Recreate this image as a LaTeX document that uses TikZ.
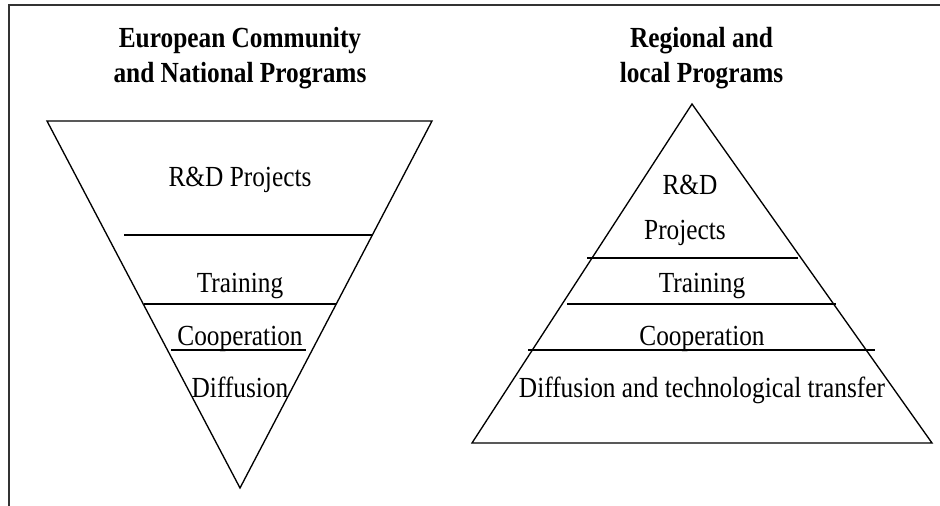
\documentclass[tikz,border=0pt]{standalone}
\usepackage{fontspec}
\setmainfont{Liberation Serif}
\tikzstyle{frameline} = [draw=black!80, line width=1.5pt]
\tikzstyle{triangle} = [draw=black, line width=1pt, line join=miter]
\tikzstyle{layerline} = [draw=black, line width=1.4pt]
\tikzstyle{layertext} = [font=\fontsize{19}{22}\selectfont, inner sep=0pt,
anchor=base, yscale=1.15]
\tikzstyle{headtext} = [layertext, font=\fontsize{19}{22}\selectfont\bfseries]

\begin{document}
\begin{tikzpicture}[x=0.75pt, y=-0.75pt]
        \useasboundingbox (0,0) rectangle (940,506);
        % frame, only top and left edges are visible
        \draw[frameline] (8.5,506) -- (8.5,5) -- (940,5);

        % left: inverted pyramid
        \coordinate (ecTL) at (47,121);
        \coordinate (ecTR) at (432,121);
        \coordinate (ecTip) at (240,488);
        \draw[triangle] (ecTL) -- (ecTR) -- (ecTip) -- cycle;
        \draw[layerline] (124,235) -- (373,235);
        \draw[layerline] (144,304) -- (336,304);
        \draw[layerline] (171,350) -- (306,350);

        \node[headtext] (ecHead1) at (240,48) {European Community};
        \node[headtext] (ecHead2) at (240,83) {and National Programs};
        \node[layertext] (ecRD) at (240,187) {R\&D Projects};
        \node[layertext] (ecTrain) at (240,293) {Training};
        \node[layertext] (ecCoop) at (240,345) {Cooperation};
        \node[layertext] (ecDiff) at (240,397.5) {Diffusion};

        % right: pyramid
        \coordinate (rgTip) at (692,104);
        \coordinate (rgBL) at (472,443);
        \coordinate (rgBR) at (932,443);
        \draw[triangle] (rgTip) -- (rgBR) -- (rgBL) -- cycle;
        \draw[layerline] (587,258) -- (798,258);
        \draw[layerline] (567,304) -- (836,304);
        \draw[layerline] (528,350) -- (875,350);

        \node[headtext] (rgHead1) at (701.5,48) {Regional and};
        \node[headtext] (rgHead2) at (701.5,83) {local Programs};
        \node[layertext] (rgRD) at (690,195) {R\&D};
        \node[layertext] (rgProj) at (685,240) {Projects};
        \node[layertext] (rgTrain) at (702,293) {Training};
        \node[layertext] (rgCoop) at (702,345) {Cooperation};
        \node[layertext] (rgDiff) at (702,397.5) {Diffusion and technological transfer};
    \end{tikzpicture}
\end{document}
